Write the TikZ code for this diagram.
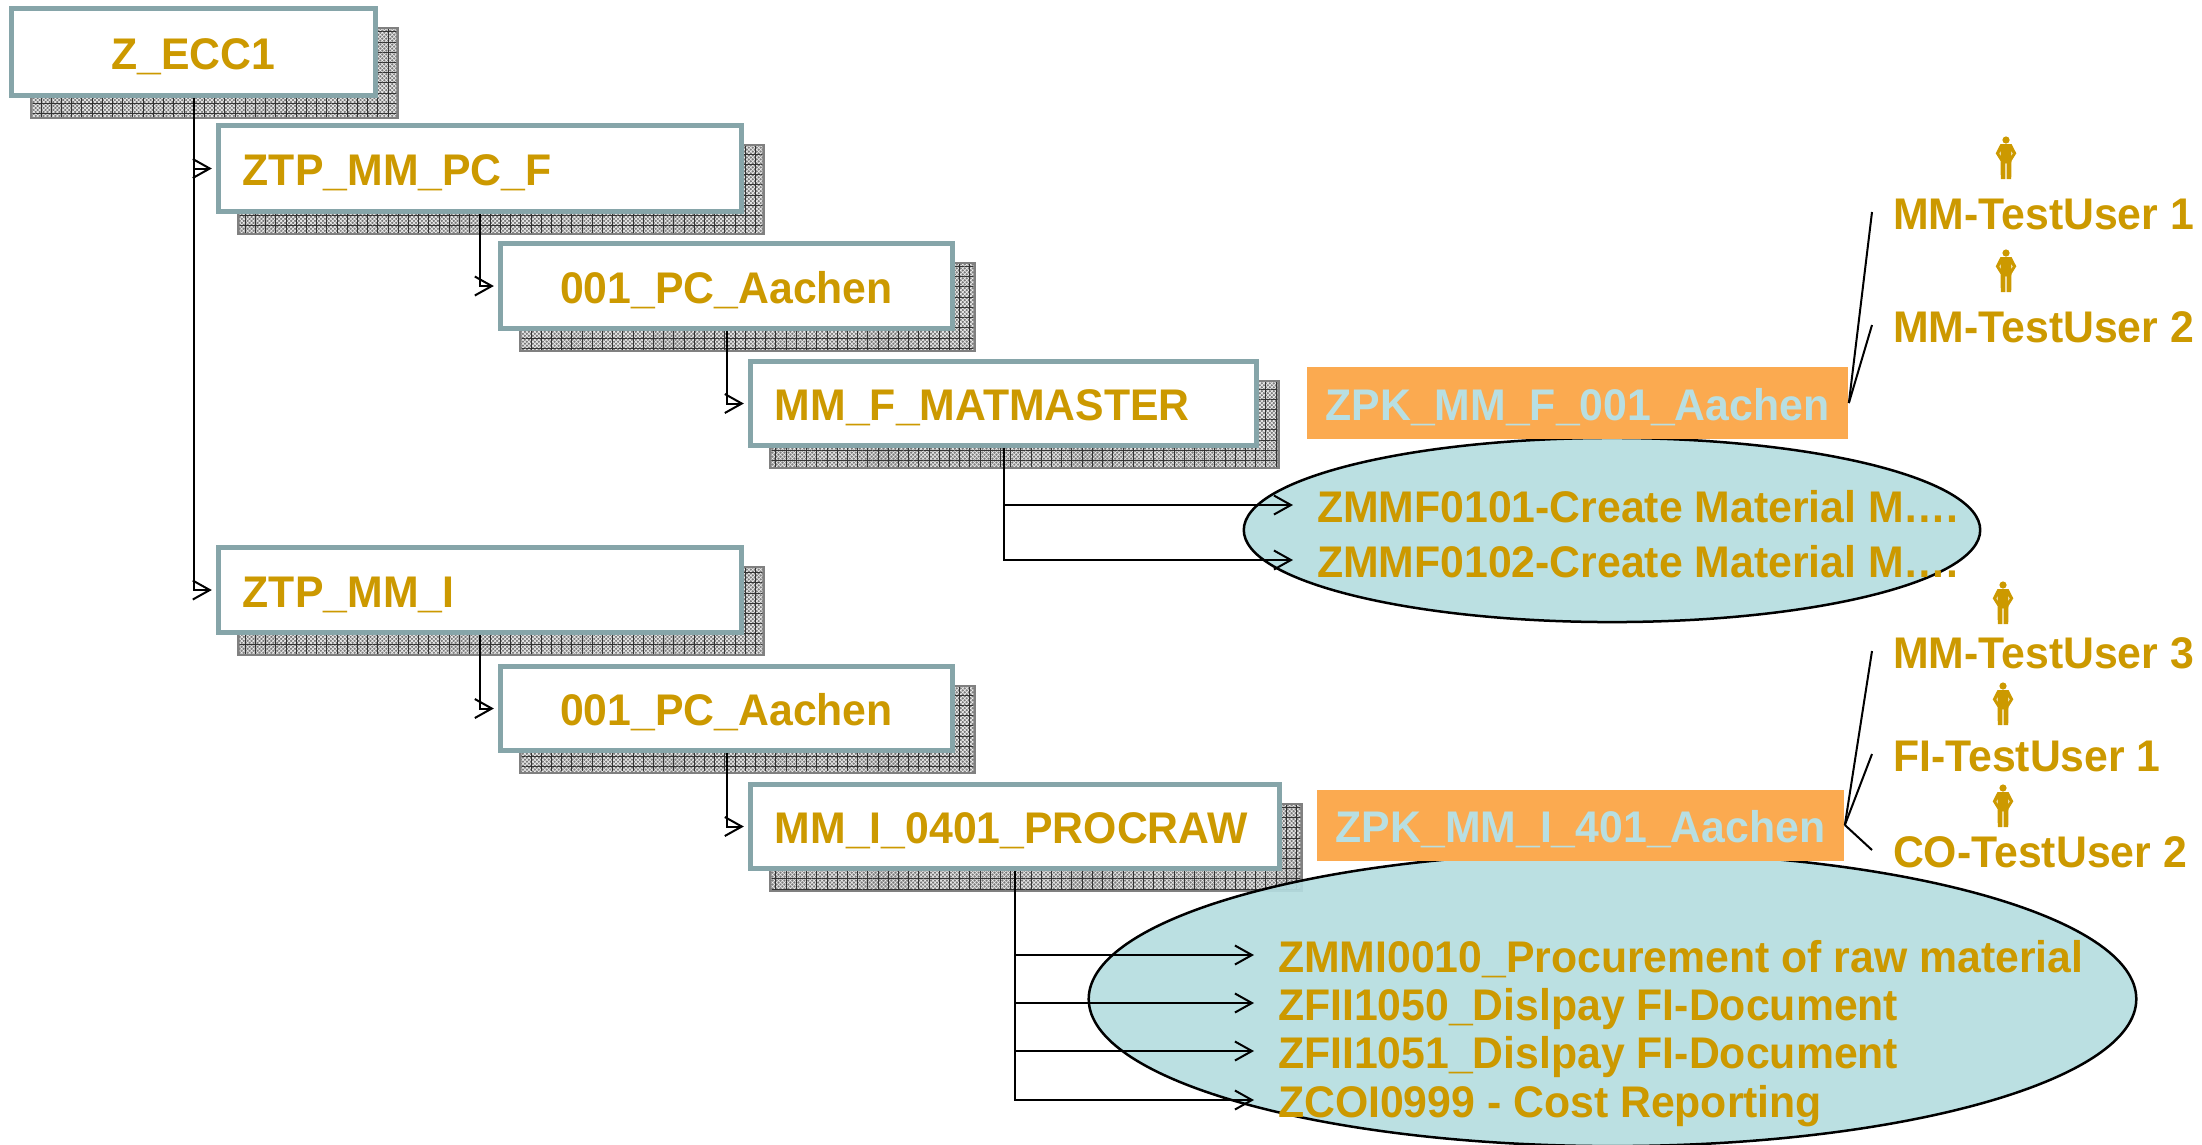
\documentclass[tikz,border=0pt]{standalone}
\usepackage{fontspec}
\setmainfont[FakeStretch=.965]{Liberation Sans}
\usepackage{tikz}
\usetikzlibrary{arrows.meta,shapes.geometric,shadows,patterns.meta}
\definecolor{gold}{HTML}{CC9900}
\definecolor{boxline}{HTML}{86A5A9}
\definecolor{pkfill}{HTML}{FBAA50}
\definecolor{pktext}{HTML}{B8DFE2}
\definecolor{ellfill}{HTML}{B5DDE0}
\definecolor{shadegray}{HTML}{787878}
\tikzset{
  txt/.style={text=gold,font=\fontsize{12.6pt}{14pt}\selectfont\bfseries,text height=9.7pt,text depth=0pt,inner sep=0pt},
  role/.style={draw=boxline,line width=.055cm,fill=white,rectangle,txt,
    general shadow={fill=shadegray,draw=black!50,line width=.055cm,shadow xshift=.21cm,shadow yshift=-.21cm},
    general shadow={pattern={Hatch[angle=45,distance=.028cm,line width=.007cm]},pattern color=white!85!gray,shadow xshift=.21cm,shadow yshift=-.21cm},
    general shadow={pattern={Hatch[angle=0,distance=.102cm,line width=.004cm]},pattern color=black!80,shadow xshift=.21cm,shadow yshift=-.21cm}},
  pk/.style={fill=pkfill,txt,text=pktext},
  tcode/.style={txt,anchor=west,outer xsep=.24cm},
  user/.style={txt,anchor=west,outer xsep=.21cm},
  link/.style={black,line width=.02cm,-{Straight Barb[length=.17cm,width=.19cm,line width=.02cm]}},
  wire/.style={black,line width=.02cm},
  trans/.style={ellipse,draw=black,line width=.025cm,fill=ellfill,fill opacity=.92,inner sep=0pt},
  person/.pic={
    \fill[gold] (0,-18) circle (3.6);
    \fill[gold,even odd rule] (-5.5,-14) -- (5.5,-14) -- (10.3,-4.7) -- (5.5,3) -- (5.2,21) -- (.6,21) -- (.6,5.3) -- (-.6,5.3) -- (-.6,21) -- (-5.2,21) -- (-5.5,3) -- (-10.3,-4.7) -- cycle
      (-6.6,-4.5) -- (-5.4,-7.5) -- (-5.4,-1.5) -- cycle (6.6,-4.5) -- (5.4,-7.5) -- (5.4,-1.5) -- cycle;
  }
}
\begin{document}
\begin{tikzpicture}[x=.01cm,y=-.01cm]
\useasboundingbox[clip] (0,0) rectangle (2202,1144);
\node[role,minimum width=3.635cm,minimum height=.865cm] (Zecc) at (193.5,52) {Z\_ECC1};
\node[role,minimum width=5.225cm,minimum height=.855cm] (Ztppc) at (480,168.5) {\makebox[4.74cm][l]{ZTP\_MM\_PC\_F}};
\node[role,minimum width=4.515cm,minimum height=.845cm] (Plant1) at (726.5,286) {001\_PC\_Aachen};
\node[role,minimum width=5.055cm,minimum height=.835cm] (Matmaster) at (1003.5,403.5) {\makebox[4.57cm][l]{MM\_F\_MATMASTER}};
\node[role,minimum width=5.225cm,minimum height=.845cm] (Ztpi) at (480,590) {\makebox[4.74cm][l]{ZTP\_MM\_I}};
\node[role,minimum width=4.515cm,minimum height=.835cm] (Plant2) at (726.5,708.5) {001\_PC\_Aachen};
\node[role,minimum width=5.285cm,minimum height=.835cm] (Procraw) at (1015,826.5) {\makebox[4.80cm][l]{MM\_I\_0401\_PROCRAW}};
% transaction ellipses
\node[trans,minimum width=7.36cm,minimum height=1.84cm] (Ell1) at (1612,530) {};
\node[trans,minimum width=10.47cm,minimum height=2.94cm] (Ell2) at (1612.5,999) {};
\node[pk,minimum width=5.41cm,minimum height=.71cm] (Zpk1) at (1577.5,403) {ZPK\_MM\_F\_001\_Aachen};
\node[pk,minimum width=5.27cm,minimum height=.71cm] (Zpk2) at (1580.5,825) {ZPK\_MM\_I\_401\_Aachen};
\node[tcode] (Tc1) at (1293,505) {ZMMF0101-Create Material M….};
\node[tcode] (Tc2) at (1293,560) {ZMMF0102-Create Material M….};
\node[tcode] (Tc3) at (1254,955) {ZMMI0010\_Procurement of raw material};
\node[tcode] (Tc4) at (1254,1003) {ZFII1050\_Dislpay FI-Document};
\node[tcode] (Tc5) at (1254,1051) {ZFII1051\_Dislpay FI-Document};
\node[tcode] (Tc6) at (1254,1100) {ZCOI0999 - Cost Reporting};
\node[user] (User1) at (1872,212) {MM-TestUser 1};
\node[user] (User2) at (1872,325) {MM-TestUser 2};
\node[user] (User3) at (1872,651) {MM-TestUser 3};
\node[user] (User4) at (1872,754) {FI-TestUser 1};
\node[user] (User5) at (1872,850) {CO-TestUser 2};
\pic at (2006,158) {person};
\pic at (2006,271) {person};
\pic at (2003,603) {person};
\pic at (2003,704) {person};
\pic at (2003,806) {person};
% tree connectors
\draw[link,shorten >=.04cm] (Zecc) |- (Ztppc);
\draw[link,shorten >=.04cm] (Zecc) |- (Ztpi);
\draw[link,shorten >=.04cm] (Ztppc) |- (Plant1);
\draw[link,shorten >=.04cm] (Plant1) |- (Matmaster);
\draw[link,shorten >=.04cm] (Ztpi) |- (Plant2);
\draw[link,shorten >=.04cm] (Plant2) |- (Procraw);
\draw[link] (Matmaster) |- (Tc1.west);
\draw[link] (Matmaster) |- (Tc2.west);
\draw[link] (Procraw) |- (Tc3.west);
\draw[link] (Procraw) |- (Tc4.west);
\draw[link] (Procraw) |- (Tc5.west);
\draw[link] (Procraw) |- (Tc6.west);
\draw[wire] (Zpk1.east) -- (User1.west);
\draw[wire] (Zpk1.east) -- (User2.west);
\draw[wire] (Zpk2.east) -- (User3.west);
\draw[wire] (Zpk2.east) -- (User4.west);
\draw[wire] (Zpk2.east) -- (User5.west);
\end{tikzpicture}
\end{document}
